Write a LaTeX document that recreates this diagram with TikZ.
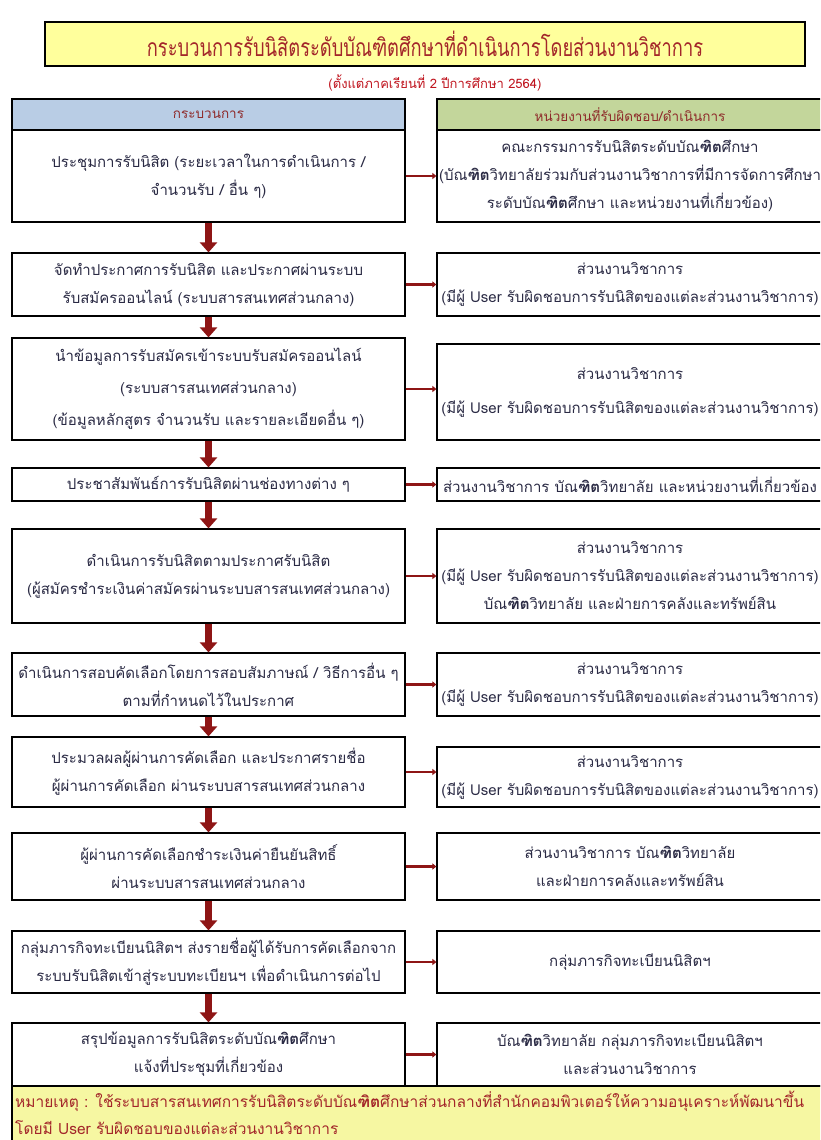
\documentclass[tikz,border=0pt]{standalone}
\usepackage{fontspec}
\setmainfont{Liberation Sans}
\newfontfamily\thai[Script=Thai]{Loma}
\usetikzlibrary{arrows.meta}
\definecolor{titlered}{HTML}{A3262A}
\definecolor{subred}{HTML}{C0141E}
\definecolor{headred}{HTML}{8E2A2A}
\definecolor{bodytext}{HTML}{2A2A44}
\definecolor{arrowred}{HTML}{8E1515}
\definecolor{titlefill}{HTML}{FFFF9C}
\definecolor{notefill}{HTML}{F6F7A2}
\definecolor{headblue}{HTML}{B9CDE5}
\definecolor{headgreen}{HTML}{C3D69B}
\newcommand{\bd}[1]{\textbf{#1}}
\tikzset{
  boxbase/.style={draw=black, line width=1.2pt, fill=white, align=center, inner sep=0pt,
     text=bodytext, font=\thai\fontsize{15}{28}\selectfont},
  lbox/.style={boxbase, minimum width=393pt},
  rbox/.style={boxbase, minimum width=386pt},
  headl/.style={lbox, fill=headblue, text=headred, font=\thai\fontsize{13.5}{16}\selectfont},
  headr/.style={rbox, fill=headgreen, text=headred, font=\thai\fontsize{13.5}{16}\selectfont},
  downarrow/.style={draw=arrowred, line width=6.5pt, -{Triangle[width=17pt,length=10pt]}},
  sidearrow/.style={draw=arrowred, line width=2.4pt, -{Triangle[width=6pt,length=4pt]}},
}
\begin{document}
\begin{tikzpicture}[x=1pt,y=-1pt]
\useasboundingbox (0,0) rectangle (820,1140);
\clip (0,0) rectangle (820,1140);
\fill[white] (0,0) rectangle (820,1140);

% title
\node[draw=black, line width=1.4pt, fill=titlefill, minimum width=760pt, minimum height=44pt,
      inner sep=0pt, text=titlered, font=\thai\fontsize{18.3}{24}\selectfont] (title) at (425,44)
  {\scalebox{1}[1.35]{กระบวนการรับนิสิตระดับบัณฑิตศึกษาที่ดำเนินการโดยส่วนงานวิชาการ}};
\node[text=subred, font=\thai\fontsize{13}{16}\selectfont, inner sep=0pt] (sub) at (435,83)
  {(ตั้งแต่ภาคเรียนที่ 2 ปีการศึกษา 2564)};

% headers
\node[headl, minimum height=31pt] (HL) at (208.5,114.5) {กระบวนการ};
\node[headr, minimum height=31pt] (HR) at (630,114.5) {หน่วยงานที่รับผิดชอบ/ดำเนินการ};

% row 1
\node[lbox, minimum height=92pt] (L1) at (208.5,176)
  {ประชุมการรับนิสิต (ระยะเวลาในการดำเนินการ /\\จำนวนรับ / อื่น ๆ)};
\node[rbox, minimum height=92pt] (R1) at (630,176)
  {คณะกรรมการรับนิสิตระดับบัณ\bd{ฑิต}ศึกษา\\(บัณ\bd{ฑิต}วิทยาลัยร่วมกับส่วนงานวิชาการที่มีการจัดการศึกษา\\ระดับบัณ\bd{ฑิต}ศึกษา และหน่วยงานที่เกี่ยวข้อง)};

% row 2
\node[lbox, minimum height=63pt] (L2) at (208.5,284.5)
  {จัดทำประกาศการรับนิสิต และประกาศผ่านระบบ\\รับสมัครออนไลน์ (ระบบสารสนเทศส่วนกลาง)};
\node[rbox, minimum height=63pt] (R2) at (630,284.5)
  {ส่วนงานวิชาการ\\(มีผู้ User รับผิดชอบการรับนิสิตของแต่ละส่วนงานวิชาการ)};

% row 3
\node[lbox, minimum height=102pt, font=\thai\fontsize{15}{32}\selectfont] (L3) at (208.5,389)
  {นำข้อมูลการรับสมัครเข้าระบบรับสมัครออนไลน์\\(ระบบสารสนเทศส่วนกลาง)\\(ข้อมูลหลักสูตร จำนวนรับ และรายละเอียดอื่น ๆ)};
\node[rbox, minimum height=96pt, font=\thai\fontsize{15}{34}\selectfont] (R3) at (630,392)
  {ส่วนงานวิชาการ\\(มีผู้ User รับผิดชอบการรับนิสิตของแต่ละส่วนงานวิชาการ)};

% row 4
\node[lbox, minimum height=33pt] (L4) at (208.5,484.5)
  {ประชาสัมพันธ์การรับนิสิตผ่านช่องทางต่าง ๆ};
\node[rbox, minimum height=33pt] (R4) at (630,484.5)
  {ส่วนงานวิชาการ บัณ\bd{ฑิต}วิทยาลัย และหน่วยงานที่เกี่ยวข้อง};

% row 5
\node[lbox, minimum height=94pt] (L5) at (208.5,576)
  {ดำเนินการรับนิสิตตามประกาศรับนิสิต\\(ผู้สมัครชำระเงินค่าสมัครผ่านระบบสารสนเทศส่วนกลาง)};
\node[rbox, minimum height=94pt] (R5) at (630,576)
  {ส่วนงานวิชาการ\\(มีผู้ User รับผิดชอบการรับนิสิตของแต่ละส่วนงานวิชาการ)\\บัณ\bd{ฑิต}วิทยาลัย และฝ่ายการคลังและทรัพย์สิน};

% row 6
\node[lbox, minimum height=63pt] (L6) at (208.5,684.5)
  {ดำเนินการสอบคัดเลือกโดยการสอบสัมภาษณ์ / วิธีการอื่น ๆ\\ตามที่กำหนดไว้ในประกาศ};
\node[rbox, minimum height=63pt] (R6) at (630,684.5)
  {ส่วนงานวิชาการ\\(มีผู้ User รับผิดชอบการรับนิสิตของแต่ละส่วนงานวิชาการ)};

% row 7
\node[lbox, minimum height=70pt] (L7) at (208.5,772)
  {ประมวลผลผู้ผ่านการคัดเลือก และประกาศรายชื่อ\\ผู้ผ่านการคัดเลือก ผ่านระบบสารสนเทศส่วนกลาง};
\node[rbox, minimum height=60pt] (R7) at (630,777)
  {ส่วนงานวิชาการ\\(มีผู้ User รับผิดชอบการรับนิสิตของแต่ละส่วนงานวิชาการ)};

% row 8
\node[lbox, minimum height=67pt] (L8) at (208.5,866.5)
  {ผู้ผ่านการคัดเลือกชำระเงินค่ายืนยันสิทธิ์\\ผ่านระบบสารสนเทศส่วนกลาง};
\node[rbox, minimum height=67pt] (R8) at (630,866.5)
  {ส่วนงานวิชาการ บัณ\bd{ฑิต}วิทยาลัย\\และฝ่ายการคลังและทรัพย์สิน};

% row 9
\node[lbox, minimum height=62pt] (L9) at (208.5,962)
  {กลุ่มภารกิจทะเบียนนิสิตฯ ส่งรายชื่อผู้ได้รับการคัดเลือกจาก\\ระบบรับนิสิตเข้าสู่ระบบทะเบียนฯ เพื่อดำเนินการต่อไป};
\node[rbox, minimum height=62pt] (R9) at (630,962)
  {กลุ่มภารกิจทะเบียนนิสิตฯ};

% row 10
\node[lbox, minimum height=63pt] (L10) at (208.5,1054.5)
  {สรุปข้อมูลการรับนิสิตระดับบัณ\bd{ฑิต}ศึกษา\\แจ้งที่ประชุมที่เกี่ยวข้อง};
\node[rbox, minimum height=63pt] (R10) at (630,1054.5)
  {บัณ\bd{ฑิต}วิทยาลัย กลุ่มภารกิจทะเบียนนิสิตฯ\\และส่วนงานวิชาการ};

% note
\node[draw=black, line width=1.2pt, fill=notefill, minimum width=818pt, minimum height=64pt,
      inner sep=0pt] (note) at (421,1118) {};
\node[anchor=north west, align=left, inner sep=0pt, text=titlered,
      font=\thai\fontsize{15.5}{27}\selectfont] (notetext) at (15,1091)
  {หมายเหตุ : ใช้ระบบสารสนเทศการรับนิสิตระดับบัณ\bd{ฑิต}ศึกษาส่วนกลางที่สำนักคอมพิวเตอร์ให้ความอนุเคราะห์พัฒนาขึ้น\\โดยมี User รับผิดชอบของแต่ละส่วนงานวิชาการ};

% vertical arrows
\foreach \a/\b in {L1/L2,L2/L3,L3/L4,L4/L5,L5/L6,L6/L7,L7/L8,L8/L9,L9/L10}
  \draw[downarrow] (\a.south) -- (\b.north);

% side arrows
\foreach \i in {1,...,10}
  \draw[sidearrow] (L\i.east) -- (L\i.east -| R\i.west);
\end{tikzpicture}
\end{document}
